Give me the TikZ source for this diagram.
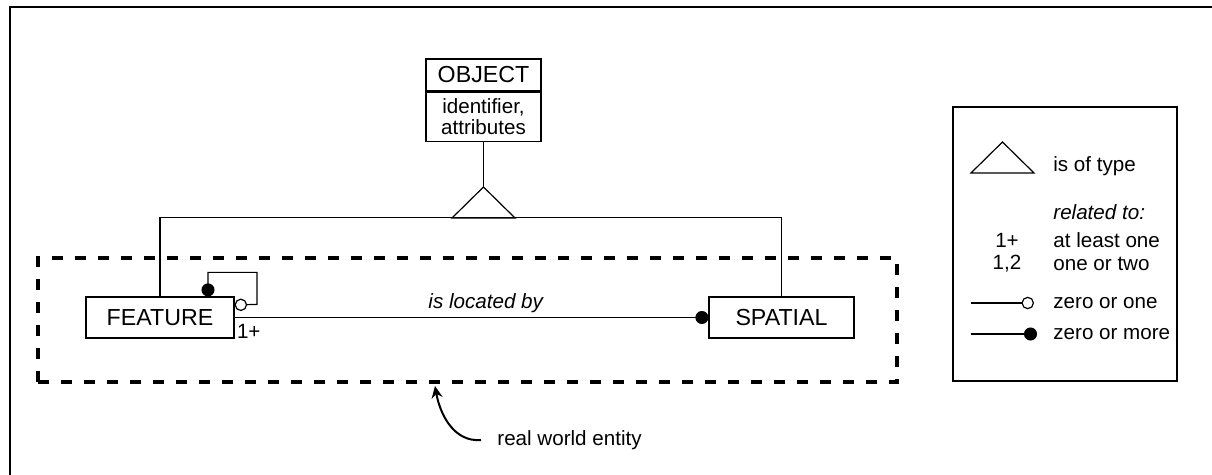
\documentclass[tikz,border=0pt]{standalone}
\usepackage{fontspec}
\setmainfont{Liberation Sans}
\usepackage{tikz}
\usetikzlibrary{positioning, arrows.meta, calc}
\newcommand{\boxfont}{\fontsize{11.6}{13}\selectfont}
\newcommand{\lblfont}{\fontsize{10.3}{10.3}\selectfont}
\tikzset{
    erbox/.style={draw, line width=0.6pt, minimum width=74pt, minimum height=20.5pt, inner sep=0pt, font=\boxfont},
    objhead/.style={draw, line width=0.6pt, minimum width=57.5pt, minimum height=16pt, inner sep=0pt, font=\boxfont},
    objbody/.style={draw, line width=0.6pt, minimum width=57.5pt, minimum height=24.5pt, inner sep=0pt, align=center, font=\lblfont},
    boundary/.style={draw, line width=1.6pt, dash pattern=on 5.5pt off 6pt, minimum width=429.5pt, minimum height=62pt},
    lgdbox/.style={draw, line width=0.6pt, minimum width=112pt, minimum height=137pt},
    lbl/.style={font=\lblfont, inner sep=1pt},
    relline/.style={line width=0.6pt},
    zeroone/.style={-{Circle[open, length=6.25pt]}},
    zeromore/.style={-{Circle[length=6.5pt]}},
    frameline/.style={line width=1.35pt},
}

\begin{document}
\begin{tikzpicture}[x=0.5pt, y=-0.5pt]
        \useasboundingbox (0,0) rectangle (1212,475);
        \draw[frameline] (10,475) |- (1212,7);
        % type hierarchy
        \node[objhead] (obj) at (483.5,75) {OBJECT};
        \node[objbody, anchor=north] (objattr) at (obj.south) {identifier,\\ attributes};
        \coordinate (isa) at (483.5,187);
        \draw[relline] (objattr.south) -- (isa);
        \draw[relline] (isa) -- ++(31.5,31) -- ++(-63,0) -- cycle;
        \node[erbox] (feat) at (160,317.5) {FEATURE};
        \node[erbox, minimum width=72.5pt] (spat) at (781.5,317.5) {SPATIAL};
        \draw[relline] (feat.north) -- ++(0,-79) -| (spat.north);
        % relationships
        \draw[relline, zeromore] (feat.east) -- (spat.west) node[lbl, pos=0.53, above=1pt] {\itshape is located by};
        \node[lbl, anchor=north west] (card) at ([yshift=-2pt]feat.east) {1+};
        \draw[relline, {Circle[length=6.5pt]}-{Circle[open, length=6.25pt]}] ([xshift=24pt]feat.north) -- ++(0,-24) -| ++(49,32) -- ([yshift=6.25pt]feat.east);
        \node[boundary] (world) at (467.5,320) {};
        \node[lbl, anchor=west] (rwe) at (495,440) {real world entity};
        \coordinate (rwetip) at (435,386);
        \draw[line width=1pt, -{Stealth[length=6pt, width=5.5pt]}] ([xshift=-7pt]rwe.west) to[out=185, in=-80] (rwetip);
        % legend
        \node[lgdbox] (lgd) at (1065,244) {};
        \coordinate (lgdisa) at (1002.5,142);
        \draw[relline] (lgdisa) -- ++(31.5,31) -- ++(-63,0) -- cycle;
        \node[lbl, anchor=west] (typ) at (1051,166) {is of type};
        \node[lbl, anchor=west] (rel) at (1051,212) {\itshape related to:};
        \node[lbl] (one) at (1007,240) {1+};
        \node[lbl, anchor=west] (onet) at (1051,240) {at least one};
        \node[lbl] (two) at (1007,264) {1,2};
        \node[lbl, anchor=west] (twot) at (1051,264) {one or two};
        \coordinate (zoa) at (971,303);
        \coordinate (zob) at (1034,303);
        \draw[relline, zeroone] (zoa) -- (zob);
        \node[lbl, anchor=west] (zot) at (1051,303) {zero or one};
        \coordinate (zma) at (971,334);
        \coordinate (zmb) at (1037,334);
        \draw[relline, zeromore] (zma) -- (zmb);
        \node[lbl, anchor=west] (zmt) at (1051,334) {zero or more};
    \end{tikzpicture}
\end{document}
